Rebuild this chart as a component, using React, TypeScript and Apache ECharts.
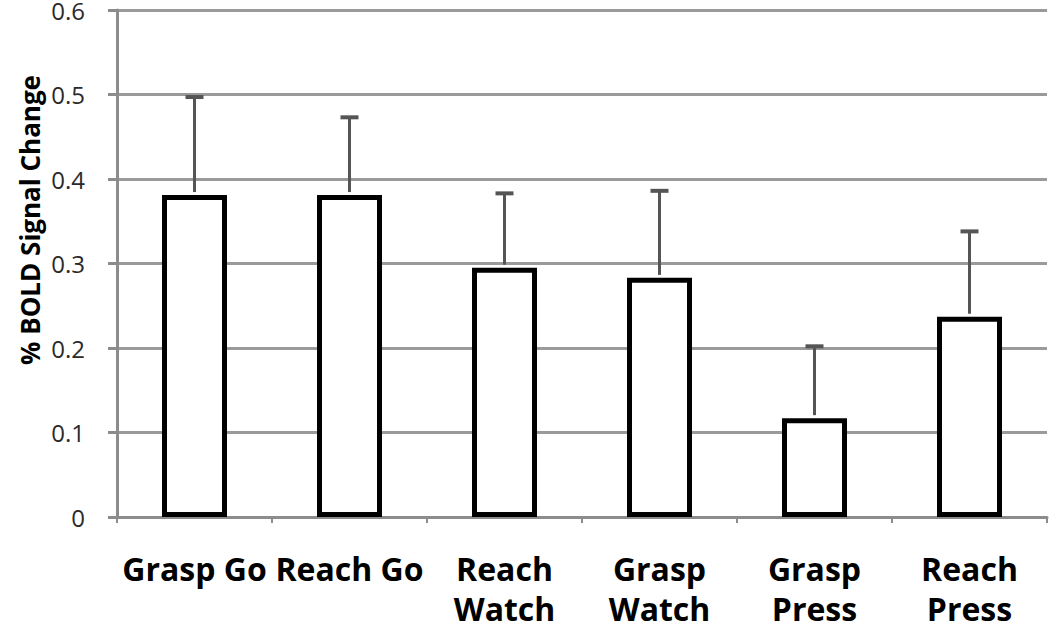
import React, { useEffect, useRef } from "react";
import * as echarts from "echarts";

const categories = ["Grasp Go", "Reach Go", "Reach\nWatch", "Grasp\nWatch", "Grasp\nPress", "Reach\nPress"];
const means = [0.381, 0.381, 0.295, 0.283, 0.117, 0.237];
const upperErr = [0.497, 0.473, 0.383, 0.386, 0.202, 0.338];
const yTicks = [0, 0.1, 0.2, 0.3, 0.4, 0.5, 0.6];

const FONT = "'Open Sans', Lato, sans-serif";

export default function App() {
  const ref = useRef<HTMLDivElement>(null);
  useEffect(() => {
    if (!ref.current) return;
    const chart = echarts.init(ref.current, undefined, { renderer: "svg" });
    const errData = means.map((m, i) => [i, m, upperErr[i]]);
    chart.setOption({
      animation: false,
      backgroundColor: "#ffffff",
      grid: { left: 117, right: 3, top: 10, bottom: 113, outerBoundsMode: "none", containLabel: false },
      xAxis: {
        type: "category",
        data: categories,
        axisLine: { show: true, lineStyle: { color: "#8c8c8c", width: 3 } },
        axisTick: { show: true, alignWithLabel: false, length: 6, lineStyle: { color: "#8c8c8c", width: 2 } },
        axisLabel: {
          interval: 0,
          margin: 31,
          fontFamily: FONT,
          fontWeight: "bold",
          fontSize: 32,
          color: "#000",
          lineHeight: 40,
        },
      },
      yAxis: {
        type: "value",
        min: 0,
        max: 0.6,
        interval: 0.1,
        axisLine: { show: true, lineStyle: { color: "#8c8c8c", width: 3 } },
        axisTick: { show: true, length: 9, lineStyle: { color: "#8c8c8c", width: 3 } },
        splitLine: { show: true, lineStyle: { color: "#9a9a9a", width: 3 } },
        axisLabel: {
          margin: 32,
          fontFamily: FONT,
          fontSize: 24,
          lineHeight: 20,
          color: "#2a2a2a",
          formatter: (v: number) => {
            const t = yTicks.find((x) => Math.abs(x - v) < 1e-9);
            return t === 0 ? "0" : String(Number((t ?? v).toFixed(1)));
          },
        },
      },
      graphic: [
        {
          type: "text",
          x: 30,
          y: 220,
          rotation: Math.PI / 2,
          style: {
            text: "% BOLD Signal Change",
            font: `bold 26px ${FONT}`,
            fill: "#000",
            align: "center",
            verticalAlign: "middle",
          },
        },
      ],
      series: [
        {
          type: "bar",
          data: means,
          barWidth: 65,
          itemStyle: { color: "#ffffff", borderColor: "#000000", borderWidth: 5 },
          z: 2,
        },
        {
          type: "custom",
          data: errData,
          z: 3,
          renderItem: (params: any, api: any) => {
            const idx = api.value(0);
            const base = api.coord([idx, api.value(1)]);
            const top = api.coord([idx, api.value(2)]);
            const cap = 9;
            const style = { stroke: "#555555", lineWidth: 3 };
            return {
              type: "group",
              children: [
                { type: "line", shape: { x1: base[0], y1: base[1] - 3, x2: top[0], y2: top[1] }, style },
                { type: "line", shape: { x1: top[0] - cap, y1: top[1], x2: top[0] + cap, y2: top[1] }, style: { stroke: "#555555", lineWidth: 4 } },
              ],
            };
          },
        },
      ],
    });
    return () => chart.dispose();
  }, []);
  return <div ref={ref} style={{ position: "fixed", left: 0, top: 0, width: 1050, height: 630 }} />;
}
